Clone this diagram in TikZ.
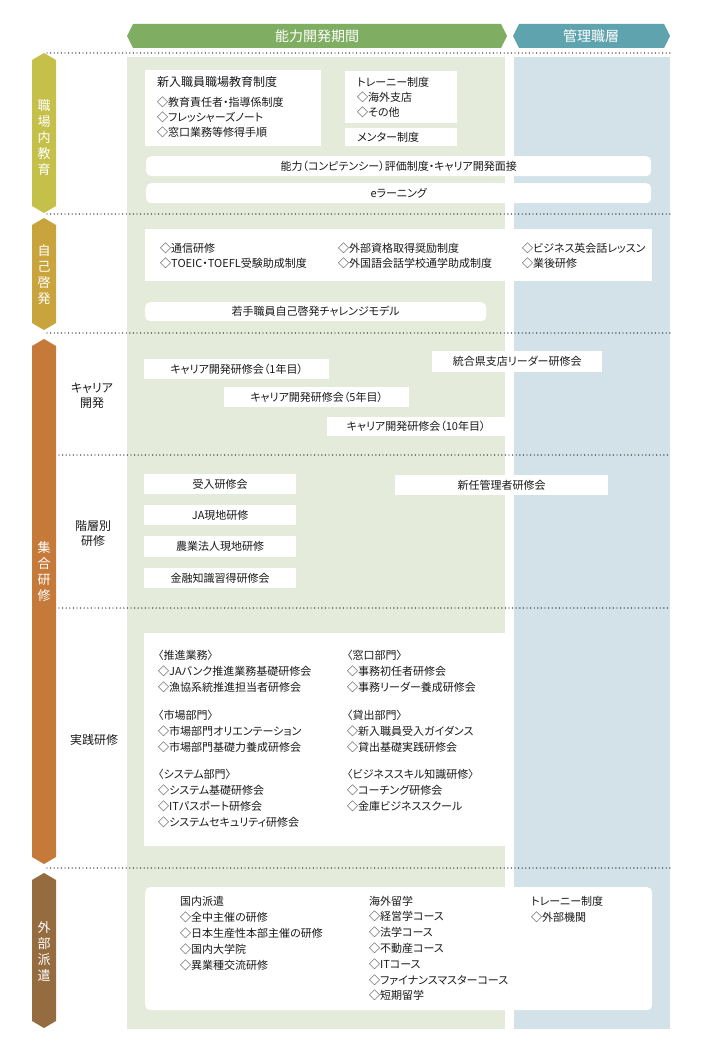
\documentclass[tikz,border=0pt]{standalone}
\usepackage{fontspec}
\setmainfont{Noto Sans CJK JP}[RawFeature=+palt]
\usepackage{xcolor}
\usepackage{tikz}

\definecolor{hdrgreen}{HTML}{7FAD62}
\definecolor{hdrblue}{HTML}{5EA3AD}
\definecolor{colgreen}{HTML}{E5EBDA}
\definecolor{colblue}{HTML}{D2E2E8}
\definecolor{tabolive}{HTML}{C4C04A}
\definecolor{tabgold}{HTML}{C9A43C}
\definecolor{taborange}{HTML}{C67A3A}
\definecolor{tabbrown}{HTML}{946C40}
\definecolor{txtc}{HTML}{1A1A1A}

\begin{document}
\begin{tikzpicture}[x=1pt, y=-1pt,
		dotline/.style={line width=1.4pt, dash pattern=on 0pt off 3.6pt, line cap=round, draw=black!85},
		box/.style={fill=white, inner sep=0pt, anchor=north west, text=txtc, font=\fontsize{11}{15}\selectfont},
		rbox/.style={box, rounded corners=5pt},
		txt/.style={inner sep=0pt, anchor=west, align=left, text=txtc, font=\fontsize{11}{15}\selectfont},
		tabtxt/.style={text=white, inner sep=0pt, align=center, font=\fontsize{13}{16}\selectfont},
		sublabel/.style={inner sep=0pt, align=center, text=txtc, font=\fontsize{12}{15}\selectfont},
		hdrtxt/.style={text=white, inner sep=0pt, font=\fontsize{14}{16}\selectfont}]
				\useasboundingbox (0,0) rectangle (706,1056);
				
				%Columns
				\fill[colgreen] (127,57) rectangle (505,1029);
				\fill[colblue] (514,57) rectangle (670,1029);
				
				%Header
				\fill[hdrgreen] (127,36) -- (133,24) -- (501,24) -- (507,36) -- (501,48) -- (133,48) -- cycle;
				\fill[hdrblue] (513,36) -- (519,24) -- (664,24) -- (670,36) -- (664,48) -- (519,48) -- cycle;
				\node[hdrtxt] (period) at (317,36) {能力開発期間};
				\node[hdrtxt] (manager) at (591,36) {管理職層};
				
				%Dotted lines
				\draw[dotline] (47,53) -- (670,53);
				\draw[dotline] (47,214) -- (670,214);
				\draw[dotline] (47,333) -- (670,333);
				\draw[dotline] (59,455) -- (670,455);
				\draw[dotline] (59,608) -- (670,608);
				\draw[dotline] (47,868) -- (670,868);
				
				%Side tabs
				\fill[tabolive] (44,53) -- (56,60) -- (56,206) -- (44,213) -- (32,206) -- (32,60) -- cycle;
				\fill[tabgold] (44,218) -- (56,225) -- (56,323) -- (44,330) -- (32,323) -- (32,225) -- cycle;
				\fill[taborange] (44,339) -- (56,346) -- (56,857) -- (44,864) -- (32,857) -- (32,346) -- cycle;
				\fill[tabbrown] (44,873) -- (56,880) -- (56,1021) -- (44,1028) -- (32,1021) -- (32,880) -- cycle;
				\node[tabtxt] (ojt) at (44,138) {職\\場\\内\\教\\育};
				\node[tabtxt] (selfdev) at (44,275) {自\\己\\啓\\発};
				\node[tabtxt] (group) at (44,572) {集\\合\\研\\修};
				\node[tabtxt] (dispatch) at (44,951) {外\\部\\派\\遣};
				
				%Sub labels
				\node[sublabel] (careerlbl) at (92,395.5) {キャリア\\開発};
				\node[sublabel] (levellbl) at (93,533.5) {階層別\\研修};
				\node[sublabel] (practlbl) at (94,740) {実践研修};
				
				%OJT
				\node[box, minimum width=176pt, minimum height=76pt] (shinnyu) at (145,70) {};
				\node[txt, font=\fontsize{12}{15}\selectfont] (shinnyuT) at (157,82) {新入職員職場教育制度};
				\node[txt] (shinnyuL) at (157,117) {◇教育責任者・指導係制度\\◇フレッシャーズノート\\◇窓口業務等修得手順};
				\node[box, minimum width=112pt, minimum height=52pt] (trainee) at (345,71) {};
				\node[txt] (traineeL) at (357,97) {トレーニー制度\\◇海外支店\\◇その他};
				\node[box, minimum width=112pt, minimum height=18pt] (mentor) at (345,128) {};
				\node[txt] (mentorT) at (357,137) {メンター制度};
				\node[rbox, minimum width=505pt, minimum height=20pt] (hyoka) at (146,156) {能力（コンピテンシー）評価制度・キャリア開発面接};
				\node[rbox, minimum width=505pt, minimum height=20pt] (elearn) at (146,183) {eラーニング};
				
				%Self development
				\node[box, minimum width=507pt, minimum height=52pt] (jiko) at (145,229) {};
				\node[txt] (jikoA) at (160,255.5) {◇通信研修\\◇TOEIC・TOEFL受験助成制度};
				\node[txt] (jikoB) at (338,255.5) {◇外部資格取得奨励制度\\◇外国語会話学校通学助成制度};
				\node[txt] (jikoC) at (522,255.5) {◇ビジネス英会話レッスン\\◇業後研修};
				\node[rbox, minimum width=341pt, minimum height=19pt] (wakate) at (145,302) {若手職員自己啓発チャレンジモデル};
				
				%Career
				\node[box, minimum width=185pt, minimum height=20pt] (career1) at (144,359) {キャリア開発研修会（1年目）};
				\node[box, minimum width=185pt, minimum height=20pt] (career5) at (224,387) {キャリア開発研修会（5年目）};
				\node[box, minimum width=178pt, minimum height=19pt] (career10) at (327,417) {キャリア開発研修会（10年目）};
				\node[box, minimum width=170pt, minimum height=21pt] (leader) at (432,351) {統合県支店リーダー研修会};
				
				%Level
				\node[box, minimum width=152pt, minimum height=20pt] (ukeire) at (144,474) {受入研修会};
				\node[box, minimum width=152pt, minimum height=20pt] (jagenchi) at (144,505) {JA現地研修};
				\node[box, minimum width=152pt, minimum height=21pt] (nogyo) at (144,536) {農業法人現地研修};
				\node[box, minimum width=152pt, minimum height=20pt] (kinyu) at (144,568) {金融知識習得研修会};
				\node[box, minimum width=213pt, minimum height=20pt] (shinnin) at (395,475) {新任管理者研修会};
				
				%Practice
				\node[box, minimum width=361pt, minimum height=213pt] (jissen) at (144,633) {};
				\node[txt, font=\fontsize{11}{16}\selectfont] (suishin) at (158,671.5) {〈推進業務〉\\◇JAバンク推進業務基礎研修会\\◇漁協系統推進担当者研修会};
				\node[txt, font=\fontsize{11}{16}\selectfont] (shijo) at (158,731.5) {〈市場部門〉\\◇市場部門オリエンテーション\\◇市場部門基礎力養成研修会};
				\node[txt, font=\fontsize{11}{16}\selectfont] (system) at (158,798) {〈システム部門〉\\◇システム基礎研修会\\◇ITパスポート研修会\\◇システムセキュリティ研修会};
				\node[txt, font=\fontsize{11}{16}\selectfont] (madoguchi) at (347,671.5) {〈窓口部門〉\\◇事務初任者研修会\\◇事務リーダー養成研修会};
				\node[txt, font=\fontsize{11}{16}\selectfont] (kashidashi) at (347,731.5) {〈貸出部門〉\\◇新入職員受入ガイダンス\\◇貸出基礎実践研修会};
				\node[txt, font=\fontsize{11}{16}\selectfont] (skill) at (347,790) {〈ビジネススキル知識研修〉\\◇コーチング研修会\\◇金庫ビジネススクール};
				
				%External
				\node[rbox, minimum width=507pt, minimum height=123pt] (haken) at (145,887) {};
				\node[txt, font=\fontsize{11}{16}\selectfont] (kokunai) at (180,933) {国内派遣\\◇全中主催の研修\\◇日本生産性本部主催の研修\\◇国内大学院\\◇異業種交流研修};
				\node[txt, font=\fontsize{11}{15.8}\selectfont] (kaigai) at (369,948.5) {海外留学\\◇経営学コース\\◇法学コース\\◇不動産コース\\◇ITコース\\◇ファイナンスマスターコース\\◇短期留学};
				\node[txt, font=\fontsize{11}{16}\selectfont] (traineeX) at (531,909) {トレーニー制度\\◇外部機関};
			\end{tikzpicture}
\end{document}
